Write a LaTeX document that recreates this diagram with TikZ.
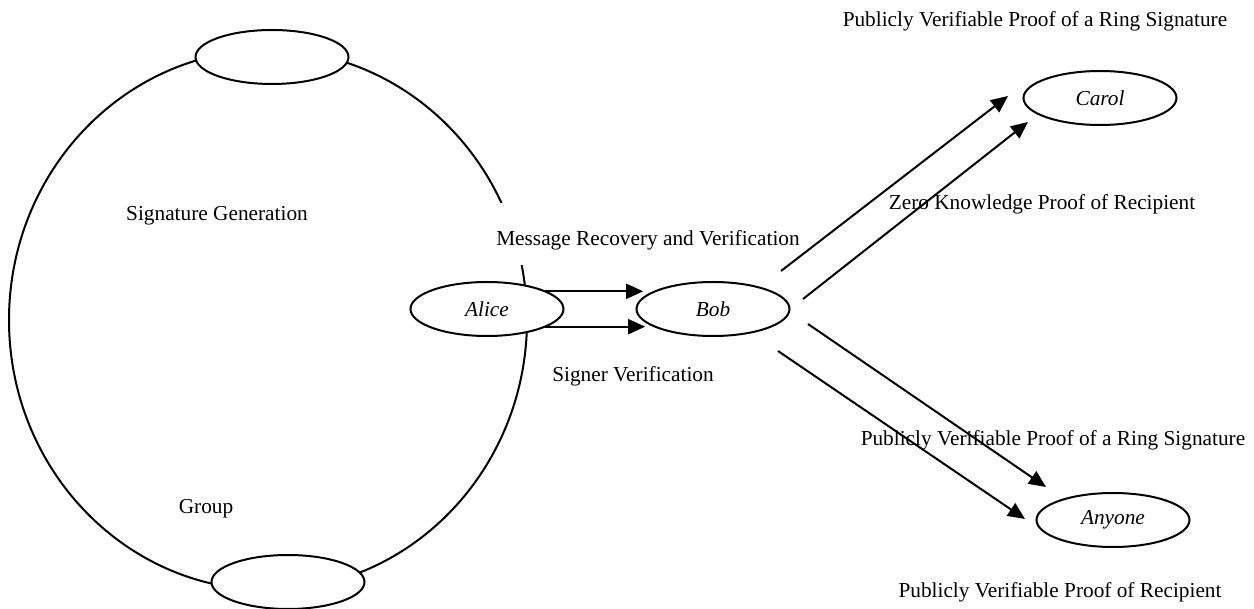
\documentclass[tikz,border=0pt]{standalone}
\usepackage{fontspec}
\setmainfont{Liberation Serif}
\usetikzlibrary{shapes.geometric,arrows.meta}
\tikzset{
  ellip/.style={draw,ellipse,fill=white,line width=2pt,minimum width=153pt,minimum height=54pt,inner sep=0pt,outer sep=0pt,font=\fontsize{21.3}{25}\selectfont\itshape},
  lbl/.style={inner sep=0pt},
  arr/.style={line width=2pt,-{Triangle[length=17pt,width=15pt]}}
}
\begin{document}
\begin{tikzpicture}[x=1pt,y=-1pt,font=\fontsize{21.3}{25}\selectfont]
\useasboundingbox (0,0) rectangle (1254,609);
\draw[line width=2pt] (268,320) ellipse [x radius=259pt,y radius=270pt];
\node[ellip] (ringtop) at (272,57) {};
\node[ellip] (ringbot) at (288,582) {};
\node[ellip] (alice) at (487,309) {Alice};
\node[ellip] (bob) at (713,309) {Bob};
\node[ellip] (carol) at (1100,98) {Carol};
\node[ellip] (anyone) at (1113,520) {Anyone};
\node[lbl] (siggen) at (217,216) {Signature Generation};
\node[lbl] (group) at (206,509) {Group};
\node[lbl,fill=white,anchor=base,inner xsep=2pt,text height=43pt,text depth=19pt] (msgrec) at (648,246) {Message Recovery and Verification};
\node[lbl] (signver) at (633,376) {Signer Verification};
\node[lbl] (pvring) at (1035,21) {Publicly Verifiable Proof of a Ring Signature};
\node[lbl] (zkp) at (1042,204) {Zero Knowledge Proof of Recipient};
\node[lbl] (pvring2) at (1053,440) {Publicly Verifiable Proof of a Ring Signature};
\node[lbl] (pvrec) at (1060,592) {Publicly Verifiable Proof of Recipient};
\coordinate (cu0) at (781,271); \coordinate (cu1) at (1008,96);
\coordinate (cl0) at (803,299); \coordinate (cl1) at (1028,122);
\coordinate (au0) at (808,324); \coordinate (au1) at (1046,487);
\coordinate (al0) at (778,351); \coordinate (al1) at (1025,519);
\draw[arr,shorten >=12pt] (alice.17) -- (bob.163);
\draw[arr,shorten >=10pt] (alice.-17) -- (bob.197);
\foreach \s/\e in {cu0/cu1,cl0/cl1,au0/au1,al0/al1}
  \draw[arr] (\s) -- (\e);
\end{tikzpicture}
\end{document}
